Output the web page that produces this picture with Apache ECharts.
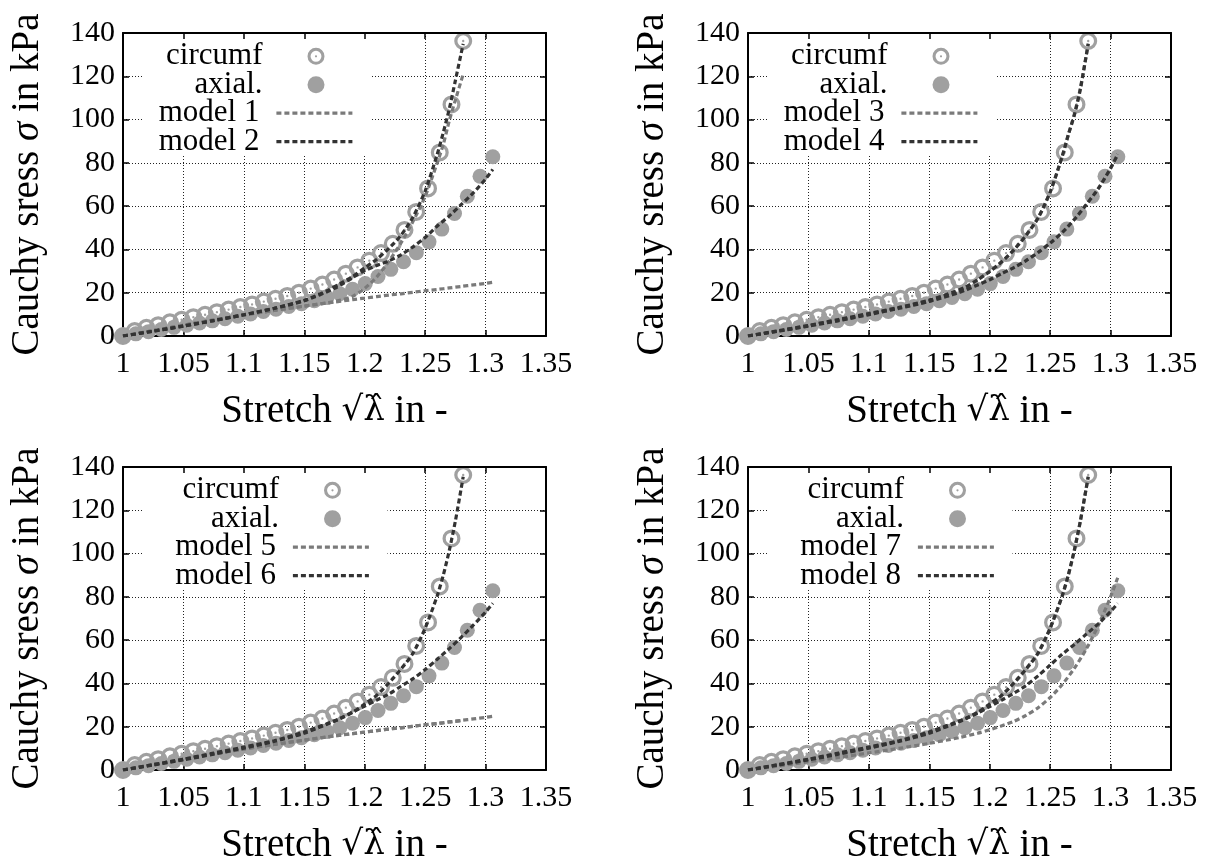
<!DOCTYPE html>
<html><head><meta charset="utf-8">
<script src="https://cdn.jsdelivr.net/npm/echarts@6/dist/echarts.min.js"></script>
<style>html,body{margin:0;padding:0;background:#fff}#c{width:1218px;height:867px}</style>
</head><body><div id="c"></div>
<script>
// ---------- data ----------
const xTickLabels = ['1', '1.05', '1.1', '1.15', '1.2', '1.25', '1.3', '1.35'];
const yTickLabels = ['0', '20', '40', '60', '80', '100', '120', '140'];

const circX = [1.0, 1.0097, 1.0194, 1.0291, 1.0388, 1.0485, 1.0582, 1.0679, 1.0777, 1.0874, 1.0971, 1.1068, 1.1165, 1.1262, 1.1359, 1.1456, 1.1553, 1.1650, 1.1747, 1.1844, 1.1941, 1.2038, 1.2135, 1.2232, 1.2329, 1.2426, 1.2524, 1.2621, 1.2718, 1.2815];
const circY = [0, 2.3, 3.8, 5.0, 6.3, 7.5, 8.7, 9.8, 11.0, 12.2, 13.4, 14.6, 15.9, 17.2, 18.5, 20.0, 21.9, 23.8, 26.1, 28.8, 31.7, 34.8, 38.3, 42.6, 49.0, 57.3, 68.2, 84.8, 107.0, 136.3];
const axialX = [1.0, 1.0106, 1.0211, 1.0317, 1.0422, 1.0528, 1.0633, 1.0739, 1.0844, 1.0950, 1.1055, 1.1161, 1.1266, 1.1372, 1.1477, 1.1583, 1.1688, 1.1794, 1.1899, 1.2005, 1.2110, 1.2216, 1.2321, 1.2427, 1.2532, 1.2638, 1.2743, 1.2849, 1.2954, 1.3060];
const axialY = [0, 1.0, 2.0, 3.0, 4.0, 5.0, 6.0, 7.0, 8.0, 9.1, 10.2, 11.3, 12.4, 13.6, 14.9, 16.3, 17.8, 19.5, 21.6, 24.2, 27.5, 30.8, 34.3, 38.5, 43.5, 49.4, 56.6, 64.6, 73.8, 82.8];

// model curves: circumferential ones sampled at circGridX, axial ones at axialGridX
const circGridX  = [1, 1.025, 1.05, 1.075, 1.1, 1.125, 1.15, 1.17, 1.18, 1.19, 1.2, 1.21, 1.22, 1.23, 1.24, 1.25, 1.26, 1.265, 1.27, 1.275, 1.2815];
const axialGridX = [1, 1.025, 1.05, 1.075, 1.1, 1.125, 1.15, 1.175, 1.19, 1.2, 1.21, 1.22, 1.23, 1.24, 1.25, 1.26, 1.27, 1.28, 1.29, 1.3, 1.306];

const model1Circ  = [0, 2.5, 5.0, 7.4, 9.7, 11.8, 13.8, 15.4, 16.6, 18.3, 22.0, 27.3, 34.5, 43.0, 53.0, 64.5, 80.0, 88.5, 99.5, 109.0, 121.0];
const model1Axial = [0, 2.5, 5.0, 7.4, 9.7, 11.8, 13.8, 15.7, 16.8, 17.5, 18.2, 18.9, 19.5, 20.2, 20.9, 21.5, 22.2, 22.9, 23.6, 24.3, 24.8];
const model2Circ  = [0, 2.2, 4.6, 7.1, 9.8, 12.8, 16.5, 21.2, 24.3, 27.5, 31.5, 35.5, 40.5, 46.5, 55.0, 67.0, 84.0, 94.0, 105.0, 118.0, 135.0];
const model2Axial = [0, 2.2, 4.6, 7.1, 9.8, 12.7, 16.3, 22.0, 27.0, 30.2, 32.6, 34.7, 37.5, 41.2, 45.5, 50.8, 55.5, 60.8, 66.2, 72.5, 77.0];

const model3Circ  = [0, 2.4, 4.9, 7.6, 10.3, 13.1, 16.5, 20.2, 22.5, 25.9, 29.8, 34.3, 39.8, 46.4, 54.5, 66.5, 83.0, 92.8, 102.5, 114.5, 135.0];
const model3Axial = [0, 2.2, 4.6, 7.1, 9.9, 12.8, 16.0, 20.1, 23.5, 26.0, 28.8, 31.6, 34.8, 38.6, 43.0, 47.9, 53.9, 60.8, 68.3, 77.4, 84.0];
const model4Circ  = [0, 2.4, 4.9, 7.6, 10.4, 13.2, 16.6, 20.3, 22.6, 26.0, 29.8, 34.3, 39.8, 46.5, 54.5, 66.5, 83.0, 93.0, 102.0, 114.0, 135.0];
const model4Axial = [0, 2.2, 4.6, 7.1, 9.9, 12.8, 16.0, 20.2, 23.6, 26.0, 28.9, 31.6, 34.8, 38.6, 42.9, 47.8, 53.8, 60.8, 68.2, 77.5, 84.0];

const model5Circ  = [0, 2.5, 5.0, 7.4, 9.7, 11.8, 13.8, 15.4, 16.2, 16.8, 17.5, 18.2, 18.9, 19.5, 20.2, 20.9, 21.5, 21.8, 22.2, 22.5, 22.9];
const model5Axial = [0, 2.5, 5.0, 7.4, 9.7, 11.8, 13.8, 15.7, 16.8, 17.5, 18.2, 18.9, 19.5, 20.2, 20.9, 21.5, 22.2, 22.9, 23.6, 24.3, 24.8];
const model6Circ  = [0, 2.5, 5.0, 7.8, 10.6, 13.5, 17.6, 21.6, 23.8, 26.6, 30.5, 34.6, 40.2, 46.6, 54.0, 65.5, 80.5, 90.0, 101.5, 115.0, 135.5];
const model6Axial = [0, 2.3, 4.7, 7.3, 10.1, 13.2, 17.0, 22.6, 26.8, 29.5, 32.3, 35.1, 38.7, 42.2, 46.4, 51.2, 56.1, 61.4, 67.0, 73.0, 77.0];

const model7Circ  = [0, 2.4, 4.9, 7.7, 10.5, 13.4, 17.4, 21.4, 23.6, 26.4, 30.3, 34.5, 40.0, 46.5, 54.0, 65.5, 80.5, 90.0, 101.5, 115.0, 135.5];
const model7Axial = [0, 1.8, 3.8, 5.8, 7.9, 10.0, 12.3, 15.0, 17.0, 18.6, 20.4, 22.5, 25.2, 28.8, 33.5, 39.5, 47.0, 56.0, 67.0, 80.0, 89.0];
const model8Circ  = [0, 2.5, 5.0, 7.8, 10.6, 13.5, 17.6, 21.6, 23.8, 26.6, 30.5, 34.6, 40.2, 46.6, 54.0, 65.5, 80.5, 90.0, 101.5, 115.0, 135.5];
const model8Axial = [0, 2.3, 4.7, 7.3, 10.1, 13.2, 17.0, 22.4, 26.3, 29.3, 32.3, 35.5, 39.0, 43.5, 48.5, 53.5, 58.0, 62.8, 67.6, 73.2, 77.0];

const panelModels = [
  [['model 1', model1Circ, model1Axial], ['model 2', model2Circ, model2Axial]],
  [['model 3', model3Circ, model3Axial], ['model 4', model4Circ, model4Axial]],
  [['model 5', model5Circ, model5Axial], ['model 6', model6Circ, model6Axial]],
  [['model 7', model7Circ, model7Axial], ['model 8', model8Circ, model8Axial]]
];

// ---------- layout / style ----------
const W = 1218;
const FONT = '"Liberation Serif", "DejaVu Serif", serif';
const grids = [
  {left: 123, top: 33, width: 423, height: 303, lg: 0},
  {left: 748, top: 33, width: 423, height: 303, lg: 0},
  {left: 123, top: 467, width: 423, height: 303, lg: 16.5},
  {left: 748, top: 467, width: 423, height: 303, lg: 16.5}
];
const lightCol = '#7a7a7a', darkCol = '#333333', markCol = '#a0a0a0';
const ringPath = 'path://M0,-10A10,10 0 1,1 0,10A10,10 0 1,1 0,-10Z M0,-6.4A6.4,6.4 0 1,0 0,6.4A6.4,6.4 0 1,0 0,-6.4Z M0,-1.3A1.3,1.3 0 1,1 0,1.3A1.3,1.3 0 1,1 0,-1.3Z';
const LW = 3.2, DASH = [5, 3];

const zip = (xs, ys) => xs.map((x, i) => [x, ys[i]]);

const option = {
  animation: false,
  backgroundColor: '#fff',
  grid: grids.map(g => ({left: g.left, top: g.top, width: g.width, height: g.height})),
  xAxis: [], yAxis: [], series: [], legend: [], graphic: []
};

grids.forEach((g, gi) => {
  const axLine = {show: true, onZero: false, lineStyle: {color: '#000', width: 2}};
  const tick = {show: true, inside: true, length: 6, lineStyle: {color: '#000', width: 1.5}};
  option.xAxis.push({
    gridIndex: gi, type: 'value', min: 1, max: 1.35, interval: 0.05, position: 'bottom',
    axisLine: axLine, axisTick: tick,
    axisLabel: {show: true, margin: 13, color: '#000', fontFamily: FONT, fontSize: 30,
      formatter: v => xTickLabels[Math.round((v - 1) / 0.05)]},
    splitLine: {show: true, lineStyle: {color: '#222', width: 1, type: [1, 2]}},
    name: 'Stretch {m|√λ̂} in -', nameLocation: 'middle', nameGap: 56,
    nameTextStyle: {color: '#000', fontFamily: FONT, fontSize: 39,
      rich: {m: {fontFamily: '"DejaVu Serif", serif', fontSize: 34, color: '#000'}}}
  });
  option.xAxis.push({
    gridIndex: gi, type: 'value', min: 1, max: 1.35, interval: 0.05, position: 'top', z: 3,
    axisLine: axLine, axisTick: tick, axisLabel: {show: false}, splitLine: {show: false}
  });
  option.yAxis.push({
    gridIndex: gi, type: 'value', min: 0, max: 140, interval: 20, position: 'left',
    axisLine: axLine, axisTick: tick,
    axisLabel: {show: true, margin: 8, color: '#000', fontFamily: FONT, fontSize: 30,
      formatter: v => yTickLabels[Math.round(v / 20)]},
    splitLine: {show: true, lineStyle: {color: '#222', width: 1, type: [1, 2]}},
    name: 'Cauchy sress {i|σ} in kPa', nameLocation: 'middle', nameGap: 76,
    nameTextStyle: {color: '#000', fontFamily: FONT, fontSize: 39,
      rich: {i: {fontStyle: 'italic', fontFamily: FONT, fontSize: 39, color: '#000'}}}
  });
  option.yAxis.push({
    gridIndex: gi, type: 'value', min: 0, max: 140, interval: 20, position: 'right', z: 3,
    axisLine: axLine, axisTick: tick, axisLabel: {show: false}, splitLine: {show: false}
  });

  const xi = gi * 2, yi = gi * 2;
  option.series.push({
    type: 'scatter', name: 'circumf', xAxisIndex: xi, yAxisIndex: yi,
    symbol: ringPath, symbolSize: 18, itemStyle: {color: markCol, opacity: 1},
    data: zip(circX, circY), silent: true
  });
  option.series.push({
    type: 'scatter', name: 'axial.', xAxisIndex: xi, yAxisIndex: yi,
    symbol: 'circle', symbolSize: 15, itemStyle: {color: markCol, opacity: 1},
    data: zip(axialX, axialY), silent: true
  });
  panelModels[gi].forEach((m, mi) => {
    const col = mi === 0 ? lightCol : darkCol;
    const ls = {color: col, width: LW, type: DASH};
    option.series.push({
      type: 'line', name: m[0], xAxisIndex: xi, yAxisIndex: yi, symbol: 'none', showSymbol: false,
      smooth: 0.25, lineStyle: ls, itemStyle: {color: col}, data: zip(circGridX, m[1]), silent: true
    });
    option.series.push({
      type: 'line', name: m[0] + ' ', xAxisIndex: xi, yAxisIndex: yi, symbol: 'none', showSymbol: false,
      smooth: 0.25, lineStyle: ls, itemStyle: {color: col}, data: zip(axialGridX, m[2]), silent: true
    });
  });

  // opaque key box (covers the dotted grid like gnuplot's key)
  option.graphic.push({
    type: 'rect', z: 1, silent: true,
    shape: {x: g.left + 19, y: g.top + 2, width: 229 + g.lg, height: 120},
    style: {fill: '#fff'}
  });

  // key entries: text right aligned, sample to its right
  const rows = [22.3, 50.8, 79.2, 107.6];
  const entries = [
    ['circumf', 40, null], ['axial.', 40, null],
    [panelModels[gi][0][0], 12, lightCol], [panelModels[gi][1][0], 12, darkCol]
  ];
  entries.forEach(([nm, pad, col], k) => {
    const isMark = col === null;
    const txt = {color: '#000', fontFamily: FONT, fontSize: 31, lineHeight: 17,
      padding: [0, pad, 0, 0]};
    const lg = {
      data: [nm], selectedMode: false, orient: 'horizontal', align: 'right',
      right: W - (g.left + (isMark ? 201.5 : 231) + g.lg), top: g.top + rows[k] - 8.5 - 6,
      padding: 0, itemWidth: isMark ? 17 : 76, itemHeight: 17,
      textStyle: txt
    };
    if (!isMark) {
      lg.itemStyle = {opacity: 0};
      lg.lineStyle = {color: col, width: LW, type: DASH};
    }
    option.legend.push(lg);
  });
});

const chart = echarts.init(document.getElementById('c'), null, {renderer: 'canvas'});
chart.setOption(option);
</script>
</body></html>
